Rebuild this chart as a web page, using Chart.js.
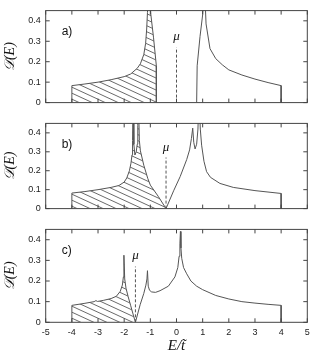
<!DOCTYPE html>
<html><head><meta charset="utf-8">
<script src="https://cdn.jsdelivr.net/npm/chart.js@4/dist/chart.umd.min.js"></script>
<style>
html,body{margin:0;padding:0;background:#fff;width:321px;height:363px;overflow:hidden}
canvas{position:absolute;left:0}
</style></head><body>
<canvas id="ca" width="321" height="113" style="top:0px"></canvas>
<canvas id="cb" width="321" height="106" style="top:113px"></canvas>
<canvas id="cc" width="321" height="144" style="top:219px"></canvas>
<script>
// ---- data ----
const xTicks = [-5, -4, -3, -2, -1, 0, 1, 2, 3, 4, 5];
const yTicks = [0, 0.1, 0.2, 0.3, 0.4];
const panelLabels = ['a)', 'b)', 'c)'];
const yTitle = '𝒟(E)';
const xTitle = 'E/t̃';
const muLabel = 'μ';

// panel a
const aOccE = [-4, -4, -3.5, -3, -2.5, -2, -1.75, -1.5, -1.38, -1.25, -1.18, -1.14, -1.11, -1.06, -0.98, -0.88, -0.77, -0.77];
const aOccD = [0, 0.083, 0.091, 0.1, 0.112, 0.127, 0.14, 0.168, 0.19, 0.235, 0.29, 0.36, 0.44, 0.6, 0.43, 0.32, 0.18, 0];
const aEmpE = [0.77, 0.79, 0.9, 1.0, 1.06, 1.13, 1.28, 1.5, 1.75, 2, 2.5, 3, 3.5, 4, 4];
const aEmpD = [0, 0.18, 0.324, 0.43, 0.6, 0.385, 0.264, 0.215, 0.185, 0.16, 0.135, 0.115, 0.098, 0.083, 0];
const muA = 0;

// panel b
const bOccE = [-4, -4, -3.5, -3, -2.5, -2.2, -2, -1.9, -1.8, -1.74, -1.7, -1.68, -1.66, -1.63, -1.59, -1.54, -1.5, -1.48, -1.46, -1.42, -1.38, -1.25, -1.1, -1.0, -0.7, -0.4];
const bOccD = [0, 0.082, 0.09, 0.1, 0.112, 0.122, 0.14, 0.162, 0.2, 0.24, 0.284, 0.36, 0.6, 0.34, 0.283, 0.3, 0.34, 0.44, 0.6, 0.36, 0.305, 0.229, 0.16, 0.124, 0.065, 0];
const bEmpE = [-0.4, -0.11, 0.14, 0.39, 0.5, 0.57, 0.62, 0.66, 0.71, 0.77, 0.82, 0.86, 0.91, 0.96, 1.05, 1.15, 1.3, 1.66, 2.17, 3, 4, 4];
const bEmpD = [0, 0.094, 0.169, 0.259, 0.31, 0.37, 0.425, 0.35, 0.315, 0.34, 0.42, 0.6, 0.42, 0.335, 0.25, 0.195, 0.165, 0.133, 0.112, 0.095, 0.08, 0];
const muB = -0.4;

// panel c
const cOccE = [-4, -4, -3.5, -3.15, -3.08, -3.02, -2.8, -2.5, -2.3, -2.15, -2.07, -2.03, -2.01, -1.98, -1.93, -1.85, -1.75, -1.65, -1.57];
const cOccD = [0, 0.082, 0.092, 0.1, 0.105, 0.101, 0.106, 0.115, 0.126, 0.15, 0.18, 0.22, 0.325, 0.21, 0.165, 0.125, 0.08, 0.035, 0];
const cEmpE = [-1.57, -1.39, -1.25, -1.17, -1.13, -1.11, -1.08, -1.03, -0.95, -0.8, -0.63, -0.31, -0.06, 0.05, 0.1, 0.13, 0.15, 0.17, 0.2, 0.27, 0.39, 0.55, 0.77, 1.0, 1.5, 2.0, 2.5, 3.0, 3.5, 4.0, 4.0];
const cEmpD = [0, 0.085, 0.14, 0.18, 0.21, 0.25, 0.175, 0.155, 0.147, 0.145, 0.153, 0.175, 0.22, 0.265, 0.32, 0.38, 0.44, 0.36, 0.31, 0.265, 0.235, 0.2, 0.175, 0.158, 0.13, 0.113, 0.1, 0.093, 0.087, 0.082, 0];
const muC = -1.57;

const muLineTop = 0.27;
const muTextY = 0.305;

// ---- drawing ----
const zip = (xs, ys) => xs.map((v, i) => ({x: v, y: ys[i]}));
const INK = '#555';
const FRAME = '#444';

function makeHatch() {
  const W = 13, H = 6;
  const c = document.createElement('canvas');
  c.width = W; c.height = H;
  const g = c.getContext('2d');
  g.strokeStyle = '#444';
  g.lineWidth = 0.8;
  for (let k = -1; k <= 1; k++) {
    g.beginPath(); g.moveTo(-1, k * H - H / W); g.lineTo(W + 1, k * H + H + H / W); g.stroke();
  }
  return document.createElement('canvas').getContext('2d').createPattern(c, 'repeat');
}
const hatch = makeHatch();

const deco = {
  id: 'deco',
  afterDatasetsDraw(chart, args, opts) {
    const {ctx, chartArea: a, scales: {x, y}} = chart;
    ctx.save();
    ctx.strokeStyle = FRAME; ctx.lineWidth = 1;
    ctx.strokeRect(a.left, a.top, a.right - a.left, a.bottom - a.top);
    ctx.beginPath();
    xTicks.forEach(v => {
      const px = x.getPixelForValue(v);
      ctx.moveTo(px, a.bottom); ctx.lineTo(px, a.bottom - 4);
      ctx.moveTo(px, a.top); ctx.lineTo(px, a.top + 4);
    });
    yTicks.forEach(v => {
      const py = y.getPixelForValue(v);
      ctx.moveTo(a.left, py); ctx.lineTo(a.left + 4, py);
      ctx.moveTo(a.right, py); ctx.lineTo(a.right - 4, py);
    });
    ctx.stroke();
    ctx.fillStyle = '#111';
    ctx.font = '12px "Liberation Sans", Arial, sans-serif';
    ctx.textAlign = 'left'; ctx.textBaseline = 'middle';
    ctx.fillText(opts.label, a.left + 16, a.top + 21);
    ctx.font = 'italic 13px "Liberation Serif", "DejaVu Serif", serif';
    ctx.textAlign = 'center'; ctx.textBaseline = 'alphabetic';
    ctx.fillText(muLabel, x.getPixelForValue(opts.mu), y.getPixelForValue(muTextY));
    ctx.restore();
  }
};

function makeChart(id, occE, occD, empE, empD, mu, label, padTop, xH, showX) {
  new Chart(document.getElementById(id), {
    type: 'line',
    data: {datasets: [
      {data: zip(occE, occD), borderColor: INK, borderWidth: 1, fill: 'origin', backgroundColor: hatch, pointRadius: 0, tension: 0},
      {data: zip(empE, empD), borderColor: INK, borderWidth: 1, fill: false, pointRadius: 0, tension: 0},
      {data: zip([mu, mu], [0, muLineTop]), borderColor: INK, borderWidth: 1, borderDash: [3, 2], fill: false, pointRadius: 0}
    ]},
    options: {
      responsive: false, animation: false, devicePixelRatio: 1,
      layout: {padding: {top: padTop, right: 13.7, left: 0, bottom: 0}},
      plugins: {legend: {display: false}, tooltip: {enabled: false}, deco: {label, mu}},
      scales: {
        x: {
          type: 'linear', min: -5, max: 5,
          afterBuildTicks: s => { s.ticks = xTicks.map(v => ({value: v})); },
          afterFit: s => { s.height = xH; },
          grid: {display: false, drawTicks: false}, border: {display: false},
          ticks: {display: showX, font: {size: 9, family: '"Liberation Sans", Arial, sans-serif'}, color: '#222', padding: 5, maxRotation: 0, autoSkip: false},
          title: {display: showX, text: xTitle, color: '#111', padding: {top: 0, bottom: 8},
                  font: {size: 15, style: 'italic', family: '"Liberation Serif", "DejaVu Serif", serif'}}
        },
        y: {
          type: 'linear', min: 0, max: 0.45,
          afterBuildTicks: s => { s.ticks = yTicks.map(v => ({value: v})); },
          afterFit: s => { s.width = 45.7; },
          grid: {display: false, drawTicks: false}, border: {display: false},
          ticks: {font: {size: 9, family: '"Liberation Sans", Arial, sans-serif'}, color: '#222', padding: 5},
          title: {display: true, text: yTitle, color: '#111', padding: {top: 1.5, bottom: 0},
                  font: {size: 14, style: 'italic', family: '"Liberation Serif", "DejaVu Serif", "DejaVu Sans", serif'}}
        }
      }
    },
    plugins: [deco]
  });
}

makeChart('ca', aOccE, aOccD, aEmpE, aEmpD, muA, panelLabels[0], 10.6, 3, false);
makeChart('cb', bOccE, bOccD, bEmpE, bEmpD, muB, panelLabels[1], 3.7, 3, false);
makeChart('cc', cOccE, cOccD, cEmpE, cEmpD, muC, panelLabels[2], 3.5, 40.7, true);
</script>
</body></html>
